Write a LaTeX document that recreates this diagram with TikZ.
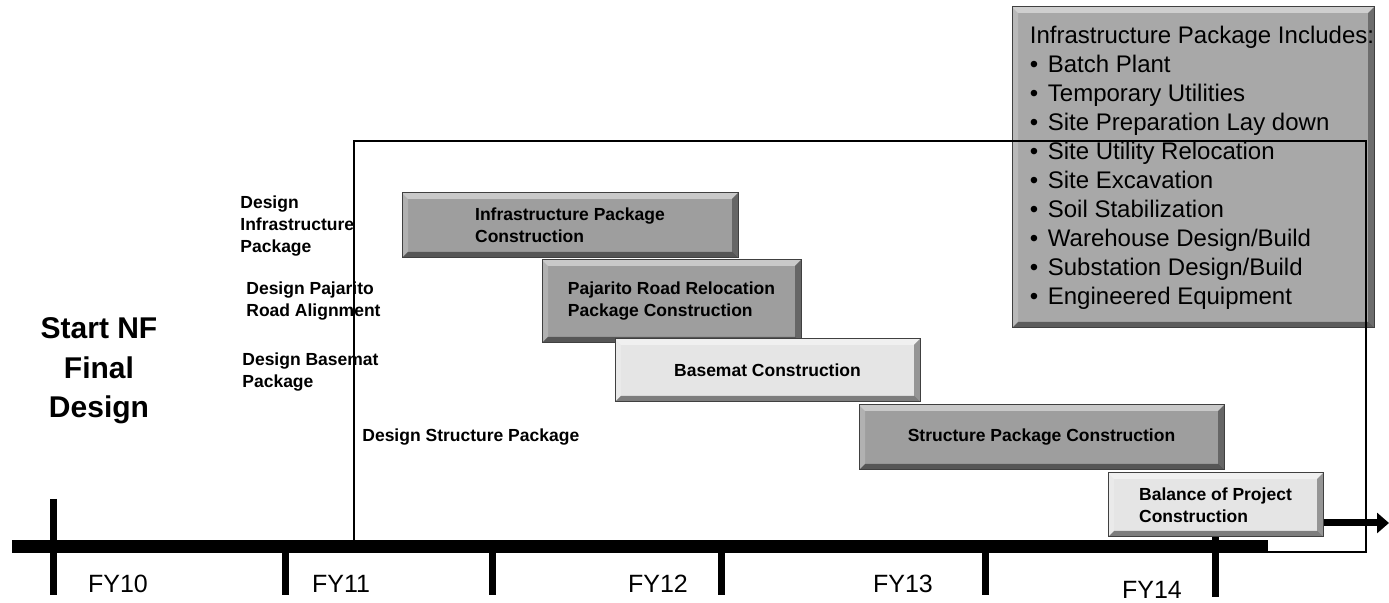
\documentclass[tikz,border=0pt]{standalone}
\usepackage{fontspec}
\setmainfont{Liberation Sans}
\usetikzlibrary{arrows.meta}

\definecolor{boxdark}{gray}{0.62}
\definecolor{boxlist}{gray}{0.66}
\definecolor{boxlight}{gray}{0.90}

\newcommand{\itm}{\makebox[9pt][l]{\textbullet}}

\tikzset{
  bevel/.style={fill=#1, draw=black!75, line width=0.5pt, inner sep=0pt,
    align=left, font=\fontsize{8.75}{11}\selectfont\bfseries,
    path picture={
      \fill[white,fill opacity=.45] (path picture bounding box.north west)
        -- (path picture bounding box.north east)
        -- ([shift={(-3pt,-3pt)}]path picture bounding box.north east)
        -- ([shift={(3pt,-3pt)}]path picture bounding box.north west) -- cycle;
      \fill[white,fill opacity=.2] (path picture bounding box.north west)
        -- (path picture bounding box.south west)
        -- ([shift={(3pt,3pt)}]path picture bounding box.south west)
        -- ([shift={(3pt,-3pt)}]path picture bounding box.north west) -- cycle;
      \fill[black,fill opacity=.45] (path picture bounding box.south west)
        -- (path picture bounding box.south east)
        -- ([shift={(-3pt,3pt)}]path picture bounding box.south east)
        -- ([shift={(3pt,3pt)}]path picture bounding box.south west) -- cycle;
      \fill[black,fill opacity=.35] (path picture bounding box.north east)
        -- (path picture bounding box.south east)
        -- ([shift={(-3pt,3pt)}]path picture bounding box.south east)
        -- ([shift={(-3pt,-3pt)}]path picture bounding box.north east) -- cycle;
    }},
  lbl/.style={inner sep=0pt, align=left, font=\fontsize{8.75}{11}\selectfont\bfseries},
  fylabel/.style={inner sep=0pt, font=\fontsize{12.5}{15}\selectfont},
  bar/.style={line width=6.5pt},
  yeartick/.style={line width=3.5pt},
  frame/.style={line width=1pt},
  arr/.style={line width=3.5pt, -{Triangle[length=6pt,width=10pt]}}
}

\begin{document}
\begin{tikzpicture}[x=0.5pt,y=-0.5pt]
    \path[use as bounding box,fill=white] (0,0) rectangle (1389,603);

    % time line
    \draw[bar] (12,547) -- (1268,547);
    \draw[yeartick] (53,499) -- (53,595);
    \foreach \x in {285,492,721,985}{
      \draw[yeartick] (\x,553) -- (\x,595);
    }
    \draw[yeartick] (1215,537) -- (1215,597);

    \foreach \x\y\t in {118/584/FY10, 341/584/FY11, 658/584/FY12,
        903/584/FY13, 1152/590/FY14}{
      \node[fylabel] (lbl\t) at (\x,\y) {\t};
    }

    % construction packages
    \node[bevel=boxdark, minimum width=168pt, minimum height=32.5pt] (infra)
      at (570,225.5) {Infrastructure Package\\Construction};
    \node[bevel=boxdark, minimum width=129.5pt, minimum height=41.5pt] (pajarito)
      at (671.5,301.5) {Pajarito Road Relocation\\Package Construction};
    \node[bevel=boxlight, minimum width=152.5pt, minimum height=31.5pt] (basemat)
      at (767.5,370.5) {Basemat Construction};
    \node[bevel=boxdark, minimum width=182.5pt, minimum height=32.5pt] (structure)
      at (1041.5,437.5) {Structure Package Construction};
    \node[bevel=boxlight, minimum width=107.5pt, minimum height=32pt] (balance)
      at (1215.5,505) {Balance of Project\\Construction};

    % what the infrastructure package holds
    \node[bevel=boxlist, minimum width=181pt, minimum height=160.5pt] (list)
      at (1193,167.5) {};
    \node[inner sep=0pt, align=left, anchor=west,
        font=\fontsize{12}{14.5}\selectfont] (incl)
      at ([xshift=9pt]list.west) {Infrastructure Package Includes:\\
      \itm Batch Plant\\
      \itm Temporary Utilities\\
      \itm Site Preparation Lay down\\
      \itm Site Utility Relocation\\
      \itm Site Excavation\\
      \itm Soil Stabilization\\
      \itm Warehouse Design/Build\\
      \itm Substation Design/Build\\
      \itm Engineered Equipment};

    % final design window
    \draw[frame] (354,141) rectangle (1366,552);

    % design labels
    \node[font=\fontsize{15}{19.75}\selectfont\bfseries, align=center, inner sep=0pt]
      (start) at (99,371) {Start NF\\Final\\Design};
    \node[lbl, anchor=west] (dinfra) at (240,226) {Design\\Infrastructure\\Package};
    \node[lbl, anchor=west] (dpajarito) at (246,301) {Design Pajarito\\Road Alignment};
    \node[lbl, anchor=west] (dbasemat) at (242,372) {Design Basemat\\Package};
    \node[lbl, anchor=west] (dstructure) at (362,437) {Design Structure Package};

    % continues past FY14
    \coordinate (beyond) at (1389,523);
    \draw[arr] (balance.east |- beyond) -- (beyond);
  \end{tikzpicture}
\end{document}
